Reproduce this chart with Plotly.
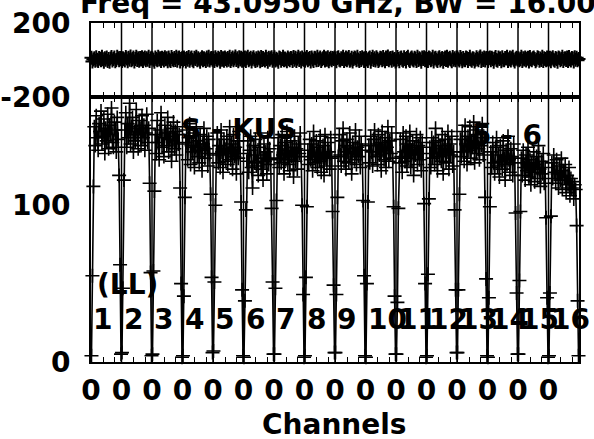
import plotly.graph_objects as go

# ---------------- data ----------------
NCH = 32  # channels drawn per IF
if_labels = [str(i) for i in range(1, 17)]
chan_tick_label = "0"

amp_if1 = [4, 55, 112, 150, 138, 157, 143, 135, 152, 147, 160, 139, 144, 155, 133, 149, 141, 158, 136, 151, 145, 162, 140, 137, 153, 148, 134, 156, 142, 119, 62, 5]
amp_if2 = [6, 47, 116, 148, 159, 137, 152, 143, 165, 139, 150, 156, 134, 147, 141, 161, 145, 136, 154, 149, 138, 157, 143, 151, 135, 146, 158, 140, 149, 114, 57, 4]
amp_if3 = [5, 58, 109, 145, 133, 154, 140, 129, 148, 159, 137, 143, 131, 151, 146, 138, 156, 134, 142, 149, 128, 144, 153, 136, 147, 132, 150, 139, 145, 111, 50, 3]
amp_if4 = [4, 42, 105, 140, 148, 129, 143, 152, 126, 138, 134, 146, 124, 137, 150, 131, 141, 127, 145, 135, 122, 139, 149, 130, 136, 144, 125, 142, 133, 107, 54, 6]
amp_if5 = [7, 51, 100, 132, 146, 127, 138, 124, 148, 134, 121, 142, 136, 128, 144, 126, 133, 150, 129, 139, 123, 145, 131, 137, 120, 141, 130, 147, 133, 102, 46, 4]
amp_if6 = [3, 39, 97, 128, 141, 121, 135, 144, 124, 111, 138, 127, 142, 125, 132, 119, 137, 146, 123, 130, 116, 139, 128, 134, 120, 143, 126, 136, 129, 98, 51, 5]
amp_if7 = [5, 47, 103, 130, 143, 124, 138, 127, 145, 132, 120, 140, 129, 147, 126, 135, 122, 141, 131, 137, 118, 144, 128, 136, 123, 139, 133, 146, 131, 100, 43, 3]
amp_if8 = [4, 54, 99, 135, 126, 142, 129, 139, 122, 147, 131, 127, 141, 124, 137, 128, 144, 121, 133, 138, 119, 145, 130, 125, 140, 134, 123, 143, 130, 96, 49, 6]
amp_if9 = [6, 43, 105, 131, 145, 132, 125, 141, 149, 128, 138, 123, 142, 134, 127, 146, 133, 120, 140, 136, 129, 148, 126, 137, 131, 144, 124, 139, 135, 103, 55, 4]
amp_if10 = [3, 50, 102, 138, 127, 144, 134, 125, 142, 148, 131, 139, 126, 145, 132, 140, 122, 147, 135, 129, 143, 124, 137, 150, 128, 141, 133, 146, 130, 99, 42, 5]
amp_if11 = [5, 38, 98, 127, 142, 131, 121, 146, 134, 128, 144, 125, 139, 130, 147, 124, 135, 141, 119, 137, 132, 145, 126, 138, 129, 143, 122, 140, 133, 101, 50, 3]
amp_if12 = [4, 56, 104, 137, 124, 143, 130, 140, 126, 149, 133, 122, 141, 131, 138, 128, 145, 120, 136, 142, 127, 134, 147, 123, 139, 132, 144, 125, 134, 97, 46, 6]
amp_if13 = [6, 46, 107, 142, 131, 147, 134, 128, 151, 139, 126, 144, 135, 150, 130, 141, 137, 153, 127, 145, 133, 148, 136, 129, 143, 138, 152, 132, 140, 105, 53, 4]
amp_if14 = [3, 41, 99, 134, 124, 140, 127, 120, 137, 143, 125, 132, 118, 138, 128, 123, 141, 130, 116, 135, 126, 144, 129, 121, 136, 131, 119, 139, 127, 95, 44, 5]
amp_if15 = [5, 52, 96, 130, 119, 135, 124, 116, 132, 122, 137, 118, 129, 113, 127, 121, 134, 115, 126, 131, 117, 138, 123, 112, 128, 120, 133, 114, 124, 92, 41, 3]
amp_if16 = [4, 44, 93, 127, 117, 132, 121, 114, 129, 120, 111, 125, 116, 130, 110, 122, 118, 126, 108, 119, 113, 124, 106, 117, 111, 115, 104, 113, 110, 87, 39, 4]

ph_if1 = [12, -8, 3, 9, -4, 15, 2, -6, 11, 7, -2, 18, 4, -9, 10, 1, 14, -5, 6, -10, 8, 16, -3, 5, 13, -7, 0, 17, 9, -1, 11, 4]
ph_if2 = [-6, 10, 4, -3, 16, 8, -7, 12, 2, 19, -1, 6, 13, -8, 5, 17, 0, 9, -4, 11, 3, 15, -5, 7, 14, -2, 10, 1, 18, -6, 8, 12]
ph_if3 = [8, 1, -9, 14, 5, -2, 17, 3, 10, -6, 12, 7, -3, 15, 4, 9, -7, 13, 2, -5, 16, 6, -1, 11, 0, 18, -4, 9, 14, -8, 5, 10]
ph_if4 = [-3, 13, 6, -8, 11, 2, 16, -4, 8, 14, 0, -7, 12, 5, 18, -2, 9, 3, -9, 7, 15, -1, 10, 4, -6, 13, 1, 17, -3, 8, 11, 2]
ph_if5 = [10, -5, 15, 4, -1, 12, 7, -9, 16, 2, 9, -4, 14, 6, -3, 11, 1, 17, -6, 5, 13, -2, 8, 19, 0, 10, -7, 15, 3, 12, -4, 7]
ph_if6 = [2, 14, -6, 9, 17, -2, 5, 12, -8, 7, 15, 3, -5, 10, -1, 13, 8, -7, 16, 0, 11, 4, -3, 18, 6, -9, 12, 1, 9, 15, -4, 6]
ph_if7 = [15, -3, 7, 1, -9, 13, 10, -4, 6, 18, -1, 8, 3, -7, 14, 5, -2, 11, 9, -6, 16, 2, 12, -5, 7, 17, 0, 10, -8, 13, 4, 1]
ph_if8 = [-4, 8, 16, -1, 6, 11, -8, 14, 3, -5, 12, 9, -2, 17, 0, 7, 13, -6, 4, 10, 18, -3, 9, 2, 15, -7, 6, 12, -1, 11, 5, 14]
ph_if9 = [7, -7, 11, 15, 1, -3, 9, 5, 18, -6, 4, 13, -1, 8, 16, -4, 2, 12, -8, 6, 14, 10, -2, 17, 3, -5, 11, 0, 15, 8, -6, 9]
ph_if10 = [11, 3, -5, 8, 14, -9, 6, 17, 0, 10, -3, 15, 7, -6, 2, 12, 9, -2, 16, 4, -7, 13, 5, 19, -1, 8, 11, -4, 14, 1, 6, -8]
ph_if11 = [-1, 16, 5, -7, 9, 13, 2, -4, 15, 6, -8, 11, 18, 1, -5, 8, 14, 3, -3, 12, 7, -6, 17, 0, 10, 4, -9, 13, 6, 15, -2, 9]
ph_if12 = [6, -6, 13, 10, -2, 4, 17, -8, 8, 12, 1, -5, 9, 15, -3, 6, 11, -9, 5, 14, 0, 18, -4, 7, 12, 3, -7, 16, 2, 10, -1, 13]
ph_if13 = [13, 4, -3, 16, 7, -7, 11, 2, -1, 14, 9, -6, 5, 17, 3, -4, 10, 7, -8, 1, 15, 6, -2, 12, 19, -5, 8, 0, 14, -3, 9, 11]
ph_if14 = [-5, 9, 14, -2, 12, 5, -9, 8, 16, 0, -4, 13, 6, 10, -7, 15, 2, -1, 11, 8, 17, -6, 4, 13, -3, 9, 18, 1, -8, 7, 12, 3]
ph_if15 = [9, -2, 6, 17, -6, 10, 3, 14, -3, 7, 12, -8, 16, 4, -1, 9, 13, 5, -7, 2, 15, 11, -4, 8, 0, 18, -5, 10, 6, -2, 14, 3]
ph_if16 = [3, 12, -7, 8, 15, 1, -4, 11, 6, -9, 14, 9, -2, 5, 18, -5, 7, 10, 0, 13, -6, 16, 4, -3, 11, 8, -8, 15, 2, 12, -1, 6]

amps = [amp_if1, amp_if2, amp_if3, amp_if4, amp_if5, amp_if6, amp_if7, amp_if8,
        amp_if9, amp_if10, amp_if11, amp_if12, amp_if13, amp_if14, amp_if15, amp_if16]
phases = [ph_if1, ph_if2, ph_if3, ph_if4, ph_if5, ph_if6, ph_if7, ph_if8,
          ph_if9, ph_if10, ph_if11, ph_if12, ph_if13, ph_if14, ph_if15, ph_if16]

title_text = "Freq = 43.0950 GHz, BW = 16.000 MHz"
source_text = "S - KUS"
baseline_text = "5 - 6"
pol_text = "(LL)"

# ---------------- layout geometry ----------------
W, H = 594, 439
L, R = 91, 579
T_TOP, T_MID, T_BOT = 23, 97, 362
FONT = "DejaVu Sans"

def px(xp):
    return xp / W

def py(yp):
    return 1 - yp / H

nif = len(amps)
xa, ya, xph, yph = [], [], [], []
for k in range(nif):
    for j, v in enumerate(amps[k]):
        xa.append(k * NCH + j + 0.5)
        ya.append(v)
    for j, v in enumerate(phases[k]):
        xph.append(k * NCH + j + 0.5)
        yph.append(v)
    xa.append(None); ya.append(None); xph.append(None); yph.append(None)

marker_a = dict(symbol="cross-thin", size=10, line=dict(color="black", width=1.6), color="black")
marker_p = dict(symbol="cross-thin", size=10, line=dict(color="black", width=2), color="black")

fig = go.Figure()
fig.add_trace(go.Scatter(x=xph, y=yph, mode="lines+markers", xaxis="x2", yaxis="y",
                         line=dict(color="black", width=2.5), marker=marker_p,
                         cliponaxis=False, showlegend=False, hoverinfo="skip"))
fig.add_trace(go.Scatter(x=xa, y=ya, mode="lines+markers", xaxis="x", yaxis="y2",
                         line=dict(color="black", width=1.6), marker=marker_a,
                         cliponaxis=False, showlegend=False, hoverinfo="skip"))

xmax = nif * NCH
major = [k * NCH for k in range(nif)]
minor = []
for k in range(nif):
    minor += [k * NCH + 13, k * NCH + 25]

tickfont = dict(family=FONT, size=28, color="black", weight="bold")
xcommon = dict(range=[0, xmax], showgrid=False, zeroline=False, showline=True,
               linecolor="black", linewidth=2, mirror="ticks", ticks="inside",
               ticklen=5, tickwidth=1, tickcolor="black", automargin=False,
               tickmode="array", tickvals=major,
               minor=dict(tickmode="array", tickvals=minor, ticks="inside",
                          ticklen=5, tickwidth=1, tickcolor="black"),
               domain=[px(L), px(R)])
ycommon = dict(showgrid=False, zeroline=False, showline=True, linecolor="black",
               linewidth=2, mirror=True, ticks="", tickfont=tickfont,
               ticklabelstandoff=13, automargin=False)

fig.update_layout(
    width=W, height=H, margin=dict(l=0, r=0, t=0, b=0, autoexpand=False),
    paper_bgcolor="white", plot_bgcolor="white",
    xaxis=dict(**xcommon, anchor="y2", ticktext=[chan_tick_label] * nif,
               tickfont=tickfont, ticklabelstandoff=2),
    xaxis2=dict(**xcommon, anchor="y", matches="x", showticklabels=False),
    yaxis=dict(**ycommon, domain=[py(T_MID), py(T_TOP)], range=[-200, 200],
               tickmode="array", tickvals=[-200, 200], ticktext=["-200", "200"],
               anchor="x2"),
    yaxis2=dict(**ycommon, domain=[py(T_BOT), py(T_MID)], range=[0, 169],
                tickmode="array", tickvals=[0, 100], ticktext=["0", "100"],
                anchor="x"),
)

# IF separators in both panels
for k in range(1, nif):
    fig.add_shape(type="line", xref="x", yref="paper", x0=k * NCH, x1=k * NCH,
                  y0=py(T_BOT), y1=py(T_TOP), line=dict(color="black", width=1.5))

annfont = dict(family=FONT, size=28, color="black", weight="bold")
anns = []
anns.append(dict(text=title_text, xref="paper", yref="paper", x=px(78), y=py(4),
                 xanchor="left", yanchor="middle", showarrow=False, font=annfont))
anns.append(dict(text="Channels", xref="paper", yref="paper", x=px(334), y=py(424),
                 xanchor="center", yanchor="middle", showarrow=False, font=annfont))
anns.append(dict(text=source_text, xref="paper", yref="paper", x=px(238), y=py(130),
                 xanchor="center", yanchor="middle", showarrow=False, font=annfont))
anns.append(dict(text=baseline_text, xref="paper", yref="paper", x=px(507), y=py(135),
                 xanchor="center", yanchor="middle", showarrow=False, font=annfont))
anns.append(dict(text=pol_text, xref="paper", yref="paper", x=px(127), y=py(284),
                 xanchor="center", yanchor="middle", showarrow=False, font=annfont))
for k, lab in enumerate(if_labels):
    anns.append(dict(text=lab, xref="x", yref="paper", x=k * NCH, y=py(319),
                     xanchor="left", yanchor="middle", showarrow=False, font=annfont))
fig.update_layout(annotations=anns)

fig.write_html("out.html", config={"displayModeBar": False},
               post_script="document.body.style.margin='0';document.body.style.overflow='hidden';")
